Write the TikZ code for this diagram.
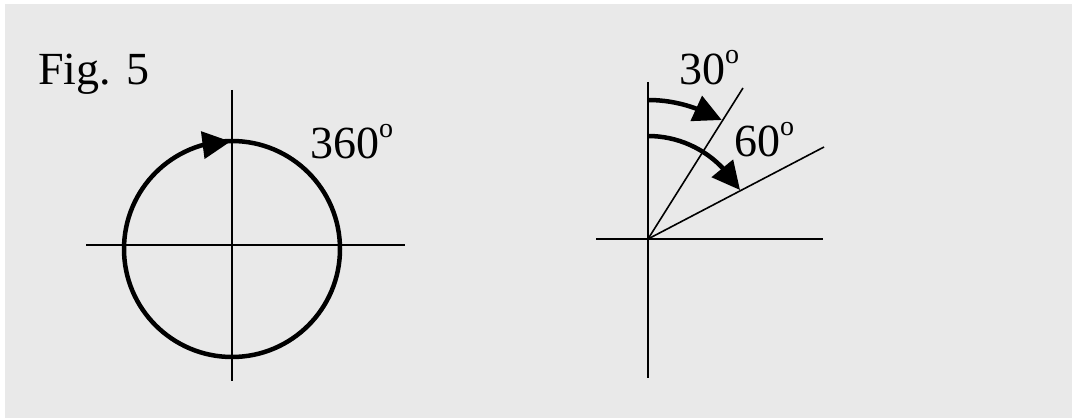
\documentclass[tikz,border=0pt]{standalone}
\usepackage{fontspec}
\setmainfont{Liberation Serif}
\usetikzlibrary{arrows.meta}
\definecolor{bggray}{RGB}{233,233,233}
\newcommand{\degsup}{\raisebox{21pt}{\fontsize{28}{30}\selectfont o}}
\tikzset{
  axis/.style={line width=2pt, black},
  ray/.style={line width=1.6pt, black},
  bold arc/.style={line width=4.5pt, black},
  headtip/.style={line width=4pt, black, -{Triangle[length=28pt,width=27pt]}},
  lbl/.style={anchor=base west, inner sep=0pt, font=\fontsize{46}{50}\selectfont}
}
\begin{document}
\begin{tikzpicture}[x=1pt,y=1pt]
\useasboundingbox (0,0) rectangle (1072,418);
\fill[bggray] (5,0) rectangle (1072,414);
% left figure
\coordinate (L1) at (86,173);
\coordinate (L2) at (405,173);
\coordinate (V1) at (232,328);
\coordinate (V2) at (232,37);
\draw[axis] (L1) -- (L2);
\draw[axis] (V1) -- (V2);
\coordinate (C) at (232,169);
\draw[bold arc] (C) circle[radius=108];
\coordinate (Lback) at (202,272.8);
\coordinate (Ltip) at (230.5,276.5);
\draw[headtip] (Lback) -- (Ltip);
\node[lbl] (t360) at (310,259) {360\degsup};
\node[lbl] (fig) at (38,333) {Fig. 5};
% right figure
\coordinate (O) at (648,179);
\coordinate (RV1) at (648,336);
\coordinate (RV2) at (648,40);
\coordinate (RH1) at (596,179);
\coordinate (RH2) at (823,179);
\coordinate (R30) at (743,330);
\coordinate (R60) at (824,271);
\draw[axis] (RV1) -- (RV2);
\draw[axis] (RH1) -- (RH2);
\draw[ray] (O) -- (R30);
\draw[ray] (O) -- (R60);
\coordinate (A1) at (648,318);
\coordinate (A2) at (648,282);
\draw[bold arc] (A1) arc[start angle=90, end angle=68, radius=139];
\draw[bold arc] (A2) arc[start angle=90, end angle=42, radius=103];
\coordinate (B1) at (696.5,309.5);
\coordinate (T1) at (721.7,298);
\coordinate (B2) at (723.8,247.8);
\coordinate (T2) at (740,228);
\draw[headtip] (B1) -- (T1);
\draw[headtip] (B2) -- (T2);
\node[lbl] (t30) at (679,333) {30\degsup};
\node[lbl] (t60) at (734,261) {60\degsup};
\end{tikzpicture}
\end{document}
